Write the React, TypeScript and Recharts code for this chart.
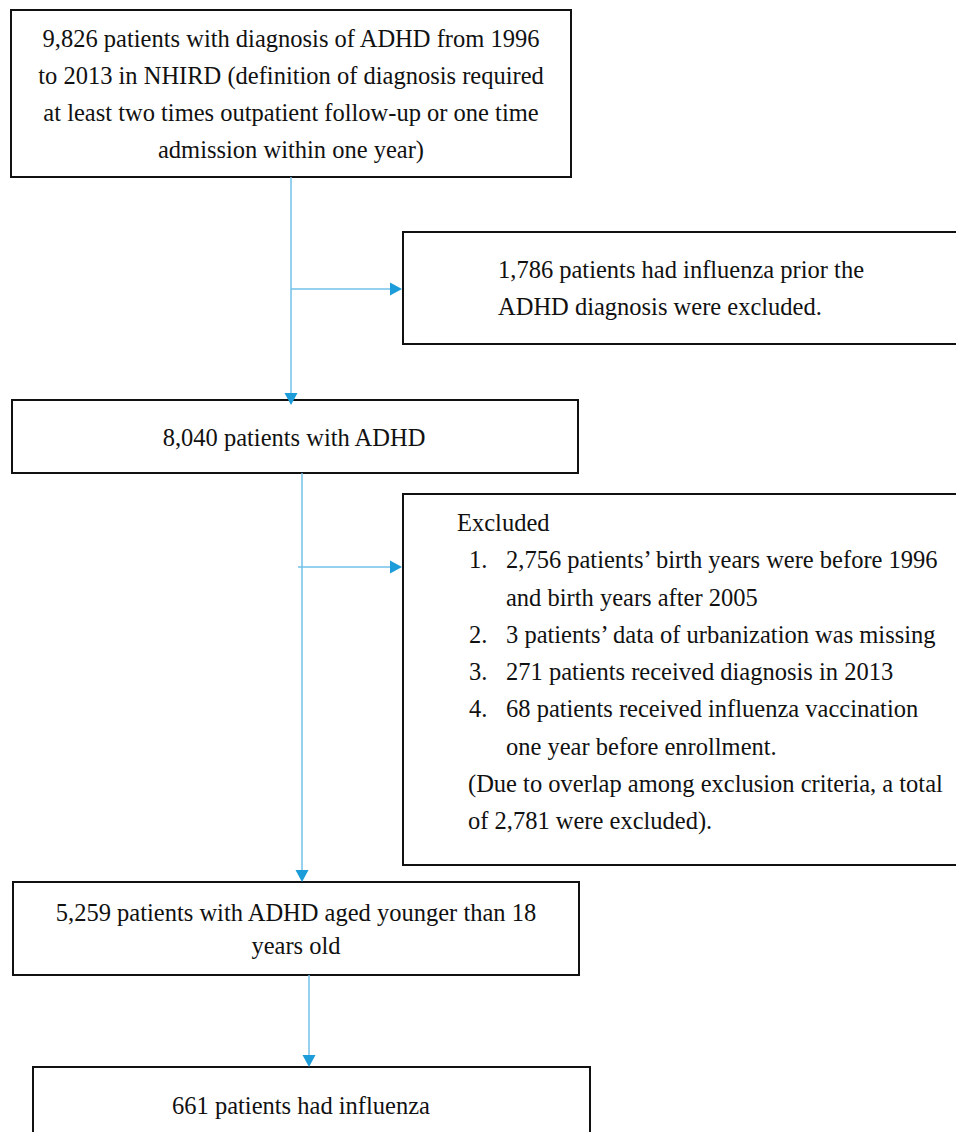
import React from "react";
import {
  ComposedChart,
  XAxis,
  YAxis,
  Scatter,
  ReferenceArea,
  ReferenceLine,
} from "recharts";

// flowchart drawn on a 956 x 1132 number plane (y grows downwards)
const boxes = [
  { name: "cohort", x1: 11, x2: 571, y1: 10, y2: 177 },
  { name: "influenzaPrior", x1: 403, x2: 990, y1: 232, y2: 344 },
  { name: "adhd", x1: 12, x2: 578, y1: 400, y2: 473 },
  { name: "excluded", x1: 403, x2: 990, y1: 494, y2: 865 },
  { name: "under18", x1: 13, x2: 579, y1: 882, y2: 975 },
  { name: "influenza", x1: 33, x2: 590, y1: 1067, y2: 1180 },
];

const connectors = [
  { from: { x: 291, y: 177 }, to: { x: 291, y: 396 } },
  { from: { x: 291, y: 289 }, to: { x: 392, y: 289 } },
  { from: { x: 302, y: 473 }, to: { x: 302, y: 873 } },
  { from: { x: 298, y: 567 }, to: { x: 392, y: 567 } },
  { from: { x: 309, y: 975 }, to: { x: 309, y: 1058 } },
];

const arrowHeads = [
  { x: 291, y: 405, dir: "down" },
  { x: 402, y: 289, dir: "right" },
  { x: 302, y: 882, dir: "down" },
  { x: 402, y: 567, dir: "right" },
  { x: 309, y: 1067, dir: "down" },
];

const centredText = [
  { x: 291, y: 38, text: "9,826 patients with diagnosis of ADHD from 1996" },
  { x: 291, y: 75, text: "to 2013 in NHIRD (definition of diagnosis required" },
  { x: 291, y: 112, text: "at least two times outpatient follow-up or one time" },
  { x: 291, y: 149, text: "admission within one year)" },
  { x: 294, y: 437, text: "8,040 patients with ADHD" },
  { x: 296, y: 912, text: "5,259 patients with ADHD aged younger than 18" },
  { x: 296, y: 945, text: "years old" },
  { x: 301, y: 1105, text: "661 patients had influenza" },
];

const leftText = [
  { x: 498, y: 269, text: "1,786 patients had influenza prior the" },
  { x: 498, y: 306, text: "ADHD diagnosis were excluded." },
  { x: 457, y: 522, text: "Excluded" },
  { x: 469, y: 559, text: "1." },
  { x: 506, y: 559, text: "2,756 patients\u2019 birth years were before 1996" },
  { x: 506, y: 597, text: "and birth years after 2005" },
  { x: 469, y: 634, text: "2." },
  { x: 506, y: 634, text: "3 patients\u2019 data of urbanization was missing" },
  { x: 469, y: 671, text: "3." },
  { x: 506, y: 671, text: "271 patients received diagnosis in 2013" },
  { x: 469, y: 708, text: "4." },
  { x: 506, y: 708, text: "68 patients received influenza vaccination" },
  { x: 506, y: 746, text: "one year before enrollment." },
  { x: 468, y: 783, text: "(Due to overlap among exclusion criteria, a total" },
  { x: 468, y: 820, text: "of 2,781 were excluded)." },
];

const FONT = "Liberation Serif";
const LINE_BLUE = "#72c0e9";
const HEAD_BLUE = "#1c9cd9";

const textShape = (anchor: "middle" | "start") => (props: any) => {
  const { cx, cy, payload } = props;
  return (
    <text
      x={cx}
      y={cy}
      textAnchor={anchor}
      dominantBaseline="central"
      fontFamily={FONT}
      fontSize={24.5}
      fill="#111"
    >
      {payload.text}
    </text>
  );
};

const headShape = (props: any) => {
  const { cx, cy, payload } = props;
  const pts =
    payload.dir === "down"
      ? `${cx - 6.5},${cy - 12} ${cx + 6.5},${cy - 12} ${cx},${cy}`
      : `${cx - 12},${cy - 6.5} ${cx - 12},${cy + 6.5} ${cx},${cy}`;
  return <polygon points={pts} fill={HEAD_BLUE} />;
};

export default function App() {
  return (
    <div style={{ position: "absolute", left: 0, top: 0, background: "#fff" }}>
      <ComposedChart
        width={956}
        height={1132}
        margin={{ top: 0, right: 0, bottom: 0, left: 0 }}
      >
        <XAxis
          type="number"
          dataKey="x"
          domain={[0, 956]}
          allowDataOverflow
          hide
        />
        <YAxis
          type="number"
          dataKey="y"
          domain={[0, 1132]}
          allowDataOverflow
          reversed
          hide
        />
        {boxes.map((b) => (
          <ReferenceArea
            key={b.name}
            x1={b.x1}
            x2={b.x2}
            y1={b.y1}
            y2={b.y2}
            fill="none"
            fillOpacity={0}
            stroke="#111"
            strokeWidth={2}
            strokeOpacity={1}
            ifOverflow="hidden"
          />
        ))}
        {connectors.map((c, i) => (
          <ReferenceLine
            key={i}
            segment={[c.from, c.to]}
            stroke={LINE_BLUE}
            strokeWidth={1.5}
            ifOverflow="visible"
          />
        ))}
        <Scatter
          data={arrowHeads}
          shape={headShape}
          isAnimationActive={false}
        />
        <Scatter
          data={centredText}
          shape={textShape("middle")}
          isAnimationActive={false}
        />
        <Scatter
          data={leftText}
          shape={textShape("start")}
          isAnimationActive={false}
        />
      </ComposedChart>
    </div>
  );
}
